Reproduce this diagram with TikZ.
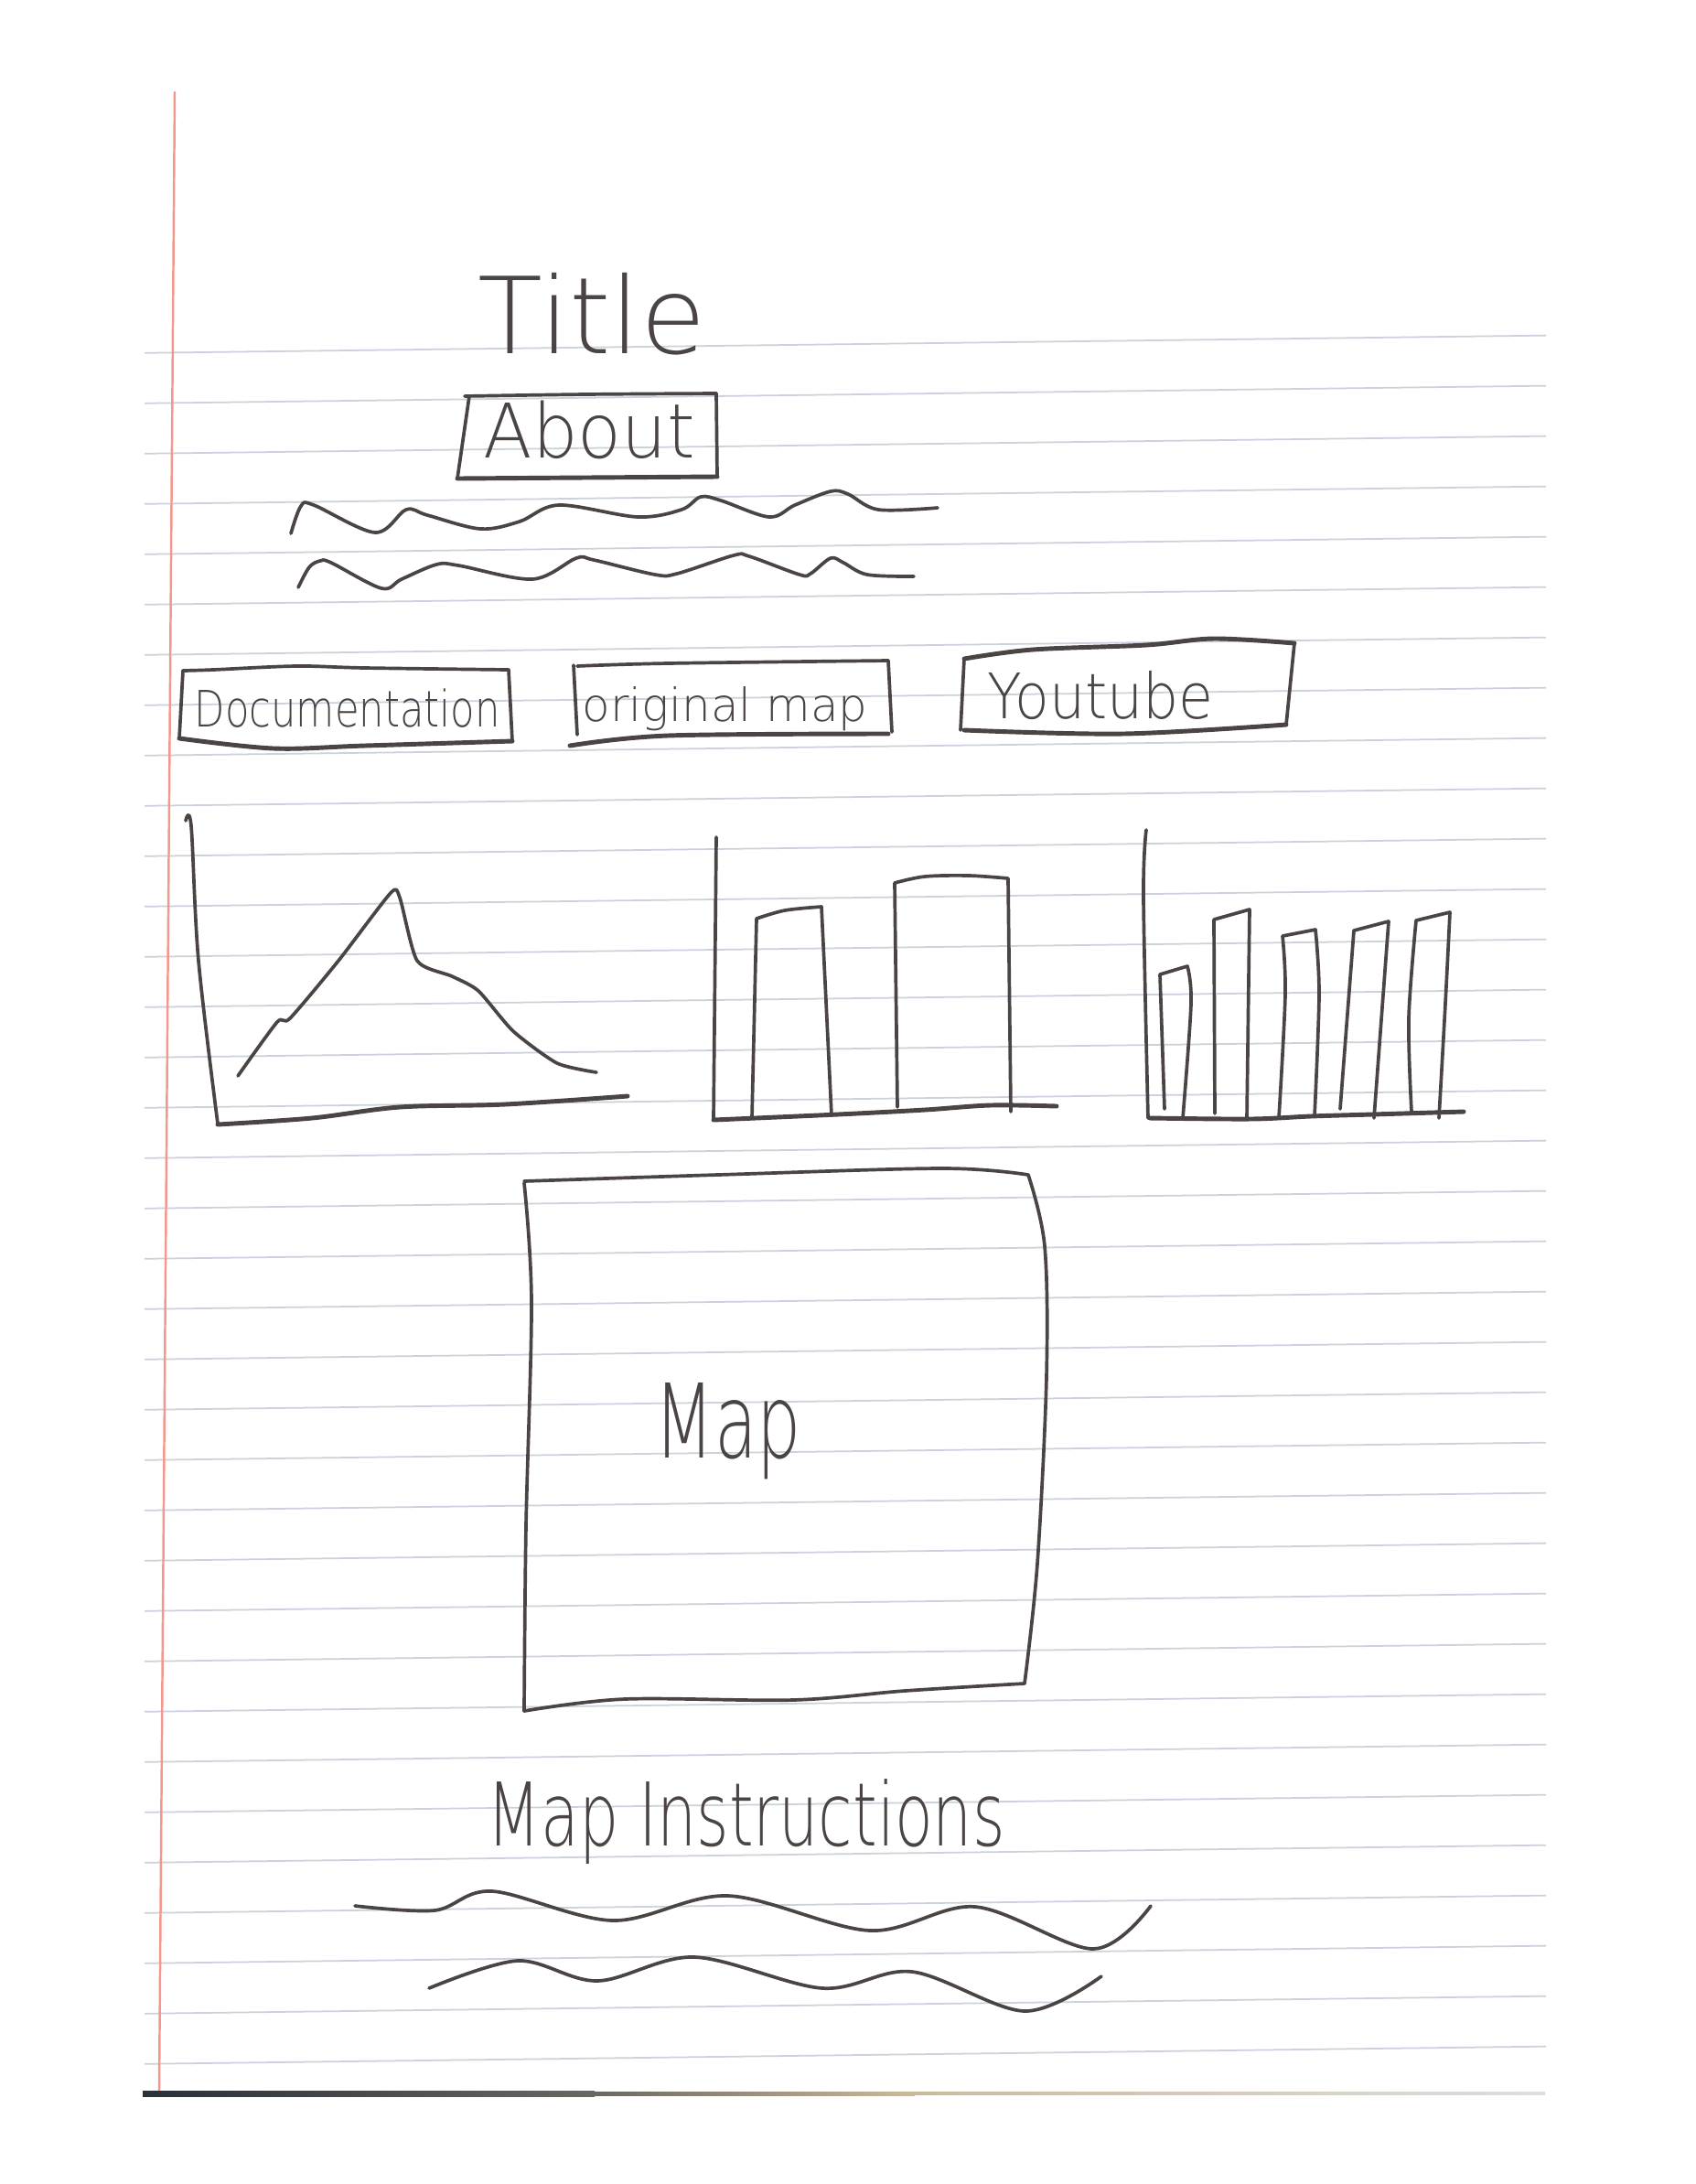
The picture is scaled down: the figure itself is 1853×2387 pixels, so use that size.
\documentclass[tikz,border=0pt]{standalone}
\usepackage{fontspec}
\usepackage{graphicx}
\newfontfamily\handfont{DejaVu Sans ExtraLight}
\definecolor{ink}{RGB}{74,68,68}
\definecolor{rulecol}{RGB}{204,209,219}
\definecolor{margincol}{RGB}{243,152,142}
\definecolor{edgedark}{RGB}{40,48,58}
\definecolor{edgetan}{RGB}{204,186,156}
\definecolor{edgelight}{RGB}{222,222,222}
\tikzset{
  pen/.style={draw=ink, line width=1.05pt, line cap=round, line join=round},
  heavypen/.style={pen, line width=1.4pt},
  ruled/.style={draw=rulecol, line width=0.5pt},
  hand/.style={text=ink, inner sep=0pt, anchor=base west},
  sm/.style={smooth, tension=0.55}
}
\begin{document}
\begin{tikzpicture}[x=0.01cm, y=-0.01cm]
\fill[white] (0,0) rectangle (1853,2387);
\useasboundingbox (0,0) rectangle (1853,2387);

% ruled paper lines, slightly tilted
\foreach \k in {0,...,34}{
  \draw[ruled] (158,{381+55*\k+0.0125*(540-158)}) -- (1690,{381+55*\k-0.0125*(1690-540)});
}
% margin line
\draw[margincol, line width=0.7pt] (191,100) -- (174,2285);
% bottom edge of the sheet
\shade[left color=edgedark, right color=edgedark!60!edgetan] (156,2285) rectangle (650,2291);
\shade[left color=edgedark!60!edgetan, right color=edgetan] (650,2286) rectangle (1000,2290);
\shade[left color=edgetan, right color=edgelight] (1000,2286) rectangle (1689,2289);

% heading
\node[hand, font=\handfont\fontsize{33}{33}\selectfont] (title) at (522,386) {Title};

% About button
\draw[pen] plot[sm] coordinates {(508,433) (640,431) (783,430)};
\draw[pen] (783,430) -- (784,520);
\draw[heavypen] plot[sm] coordinates {(500,523) (640,522) (784,521)};
\draw[pen] (513,433) -- (500,523);
\node[hand, font=\handfont\fontsize{23.4}{23.4}\selectfont] (about) at (528,500) {\scalebox{0.95}[1]{About}};

% scribbled paragraph under About
\draw[pen] plot[sm] coordinates {(318,583) (329,553) (343,552) (410,582) (444,557) (467,563) (525,578) (568,570) (611,552) (697,565) (745,557) (766,543) (788,547) (841,565) (869,552) (908,537) (927,540) (960,557) (1025,555)};
\draw[pen] plot[sm] coordinates {(326,642) (338,620) (350,613) (362,615) (417,643) (439,633) (477,617) (501,618) (582,633) (630,610) (649,612) (716,628) (740,627) (802,607) (819,608) (874,628) (886,627) (908,610) (922,615) (948,628) (999,630)};

% link buttons
\draw[pen] plot[sm] coordinates {(200,733) (233,732) (324,728) (399,730) (556,732)};
\draw[pen] (556,732) -- (560,810);
\draw[heavypen] plot[sm] coordinates {(560,810) (399,815) (299,818) (196,807)};
\draw[pen] (196,807) -- (200,733);
\node[hand, font=\handfont\fontsize{15.6}{15.6}\selectfont] (docs) at (212,794) {\scalebox{0.79}[1]{Documentation}};

\draw[pen] plot[sm] coordinates {(631,728) (730,725) (971,722)};
\draw[pen] (971,722) -- (975,800);
\draw[heavypen] plot[sm] coordinates {(971,802) (730,804) (623,815)};
\draw[pen] (627,727) -- (631,803);
\node[hand, font=\handfont\fontsize{14.2}{14.2}\selectfont] (origmap) at (636,788) {original map};

\draw[heavypen] plot[sm] coordinates {(1054,720) (1129,710) (1253,705) (1327,698) (1415,703)};
\draw[pen] (1415,703) -- (1406,792);
\draw[heavypen] plot[sm] coordinates {(1406,792) (1228,802) (1054,798)};
\draw[pen] (1054,720) -- (1050,798);
\node[hand, font=\handfont\fontsize{19.5}{19.5}\selectfont] (youtube) at (1079,785) {\scalebox{0.9}[1]{Youtube}};

% chart 1: line chart
\draw[pen] plot[sm] coordinates {(203,897) (209,903) (217,1050) (238,1228)};
\draw[heavypen] plot[sm] coordinates {(238,1229) (341,1222) (437,1210) (552,1207) (686,1198)};
\draw[pen] plot[smooth, tension=0.4] coordinates {(260,1176) (303,1117) (317,1113) (370,1050) (427,976) (437,981) (456,1050) (494,1067) (523,1083) (561,1127) (609,1162) (652,1172)};

% chart 2: two bars
\draw[pen] (783,915) -- (780,1223);
\draw[heavypen] plot[sm] coordinates {(780,1224) (916,1218) (1011,1213) (1083,1208) (1155,1209)};
\draw[pen] (822,1222) -- (827,1004) -- plot[sm] coordinates {(827,1004) (858,995) (898,991)} -- (909,1219);
\draw[pen] (981,1210) -- (978,965) -- plot[sm] coordinates {(978,965) (1011,958) (1059,957) (1102,960)} -- (1105,1215);

% chart 3: five bars
\draw[pen] plot[sm] coordinates {(1253,907) (1250,980) (1255,1222)};
\draw[heavypen] plot[sm] coordinates {(1257,1222) (1367,1223) (1433,1220) (1500,1218) (1600,1215)};
\draw[pen] (1273,1212) -- (1268,1065) -- (1298,1056) -- plot[sm] coordinates {(1298,1056) (1302,1097) (1293,1222)};
\draw[pen] (1328,1217) -- (1327,1005) -- (1366,994) -- (1363,1223);
\draw[pen] plot[sm] coordinates {(1398,1222) (1405,1087) (1402,1023)} -- (1438,1016) -- plot[sm] coordinates {(1438,1016) (1442,1087) (1437,1220)};
\draw[pen] (1465,1212) -- (1480,1017) -- (1518,1007) -- (1502,1222);
\draw[pen] plot[sm] coordinates {(1543,1215) (1540,1113) (1548,1006)} -- (1585,997) -- plot[sm] coordinates {(1585,997) (1580,1097) (1573,1222)};

% map panel
\draw[pen] plot[sm] coordinates {(573,1291) (785,1284) (1030,1277) (1124,1284)};
\draw[pen] plot[sm] coordinates {(1124,1284) (1142,1362) (1144,1505) (1134,1709) (1120,1840)};
\draw[pen] plot[sm] coordinates {(1120,1840) (989,1848) (867,1858) (683,1857) (573,1870)};
\draw[pen] plot[sm] coordinates {(573,1870) (575,1668) (581,1423) (573,1293)};
\node[hand, font=\handfont\fontsize{32}{32}\selectfont] (map) at (715,1593) {\scalebox{0.675}[1]{Map}};

% instructions below the map
\node[hand, font=\handfont\fontsize{27.3}{27.3}\selectfont] (instr) at (532,2017) {\scalebox{0.71}[1]{Map Instructions}};
\draw[pen] plot[sm] coordinates {(388,2083) (475,2088) (538,2067) (670,2099) (796,2072) (951,2110) (1066,2084) (1195,2130) (1258,2083)};
\draw[pen] plot[sm] coordinates {(469,2173) (566,2143) (653,2165) (759,2139) (899,2173) (997,2155) (1120,2198) (1204,2160)};
\end{tikzpicture}
\end{document}
